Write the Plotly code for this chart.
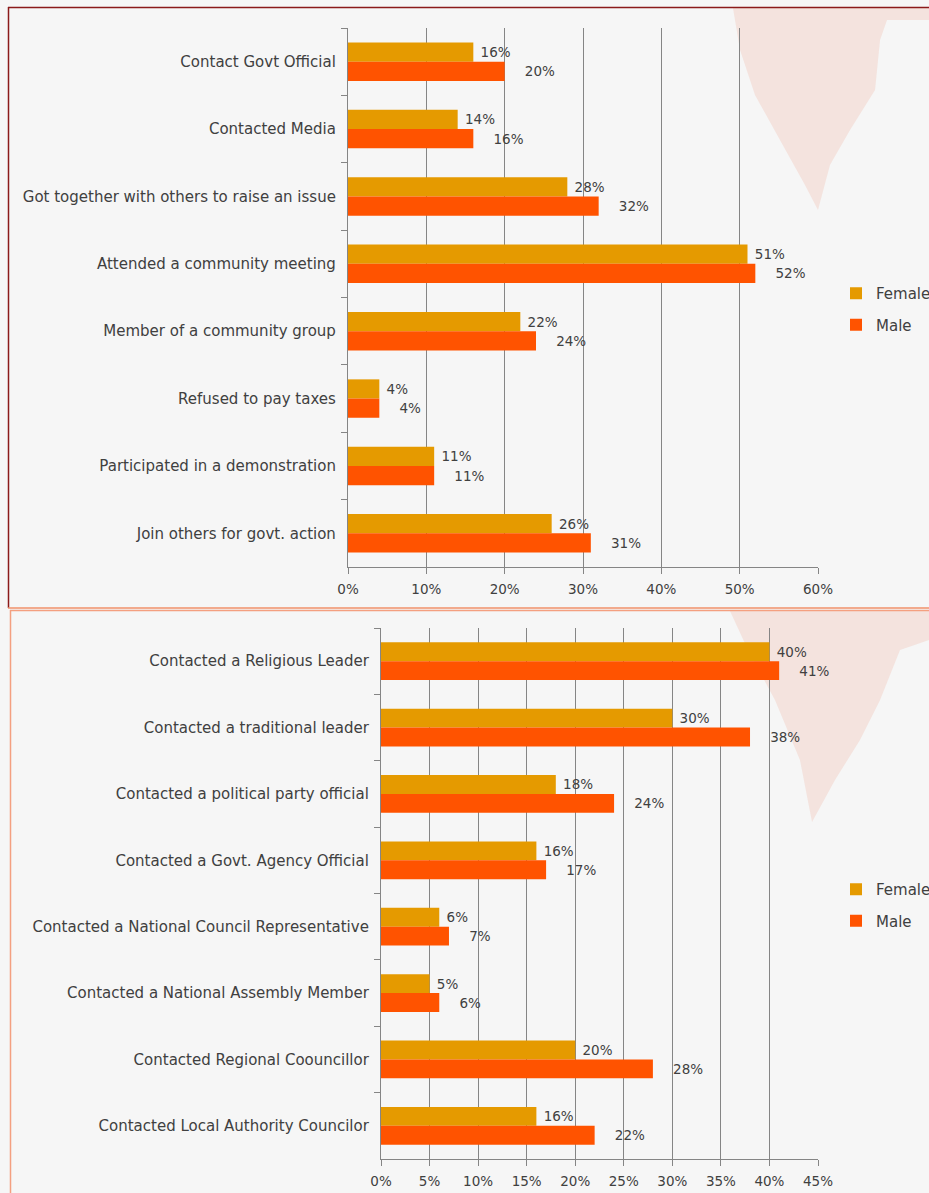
import plotly.graph_objects as go

# ---- data ----
top_categories = [
    "Contact Govt Official",
    "Contacted Media",
    "Got together with others to raise an issue",
    "Attended a community meeting",
    "Member of a community group",
    "Refused to pay taxes",
    "Participated in a demonstration",
    "Join others for govt. action",
]
top_female = [16, 14, 28, 51, 22, 4, 11, 26]
top_male = [20, 16, 32, 52, 24, 4, 11, 31]
top_ticks = [0, 10, 20, 30, 40, 50, 60]

bottom_categories = [
    "Contacted a Religious Leader",
    "Contacted a traditional leader",
    "Contacted a political party official",
    "Contacted a Govt. Agency Official",
    "Contacted a National Council Representative",
    "Contacted a National Assembly Member",
    "Contacted Regional Coouncillor",
    "Contacted Local Authority Councilor",
]
bottom_female = [40, 30, 18, 16, 6, 5, 20, 16]
bottom_male = [41, 38, 24, 17, 7, 6, 28, 22]
bottom_ticks = [0, 5, 10, 15, 20, 25, 30, 35, 40, 45]

series_names = ["Female", "Male"]

# ---- style ----
W, H = 929, 1193
FEMALE_C = "#E59A00"
MALE_C = "#FF5300"
TEXT_C = "#404040"
GRID_C = "#858585"
FONT = "DejaVu Sans"
NB = "\u00a0"
label_pad = {"Female": 1, "Male": 4}


def px_x(x):
    return x / W


def px_y(y):
    return 1 - y / H


fig = go.Figure()

panels = [
    (top_categories, [top_female, top_male], "x", "y", "legend"),
    (bottom_categories, [bottom_female, bottom_male], "x2", "y2", "legend2"),
]
for cats, series, xa, ya, lg in panels:
    for name, vals, col in zip(series_names, series, [FEMALE_C, MALE_C]):
        fig.add_trace(go.Bar(
            y=cats, x=vals, name=name, orientation="h",
            marker=dict(color=col, line=dict(width=0)),
            text=[NB * label_pad[name] + f"{v}%" for v in vals], textposition="outside",
            textfont=dict(color=TEXT_C, size=13.5, family=FONT),
            cliponaxis=False, xaxis=xa, yaxis=ya, legend=lg,
            legendgroup=f"{lg}-{name}",
        ))

xcommon = dict(
    showgrid=True, gridcolor=GRID_C, gridwidth=1.2,
    showline=True, linecolor=GRID_C, linewidth=1.2,
    ticks="outside", ticklen=6, tickcolor=GRID_C,
    zeroline=False, tickfont=dict(color=TEXT_C, size=13.5, family=FONT),
    fixedrange=True, automargin=False, ticklabelstandoff=4,
)
ycommon = dict(
    autorange="reversed", showline=True, linecolor=GRID_C, linewidth=1.2,
    ticks="outside", ticklen=6, tickcolor=GRID_C, tickson="boundaries",
    showgrid=False, tickfont=dict(color=TEXT_C, size=15, family=FONT),
    ticklabelstandoff=8, automargin=False, fixedrange=True,
)
legcommon = dict(
    x=1.0 + 7 / W, xanchor="right", yanchor="middle",
    traceorder="grouped", bgcolor="rgba(0,0,0,0)",
    font=dict(size=15, color=TEXT_C, family=FONT),
    itemwidth=30, tracegroupgap=9,
)

fig.update_layout(
    width=W, height=H,
    margin=dict(l=0, r=0, t=0, b=0, autoexpand=False),
    paper_bgcolor="#f6f6f6", plot_bgcolor="rgba(0,0,0,0)",
    barmode="group", bargap=0.43, bargroupgap=0,
    font=dict(family=FONT, color=TEXT_C),
    xaxis=dict(domain=[px_x(348), px_x(818)], anchor="y", range=[0, 60],
               tickvals=top_ticks, ticktext=[f"{t}%" for t in top_ticks], **xcommon),
    yaxis=dict(domain=[px_y(567), px_y(28)], anchor="x", **ycommon),
    xaxis2=dict(domain=[px_x(381), px_x(818)], anchor="y2", range=[0, 45],
                tickvals=bottom_ticks, ticktext=[f"{t}%" for t in bottom_ticks], **xcommon),
    yaxis2=dict(domain=[px_y(1159), px_y(628)], anchor="x2", **ycommon),
    legend=dict(y=px_y(309), **legcommon),
    legend2=dict(y=px_y(905), **legcommon),
    showlegend=True,
)

# decorative background blobs and panel borders (paper coords)
def path(points):
    s = "M " + " L ".join(f"{px_x(x):.4f},{px_y(y):.4f}" for x, y in points) + " Z"
    return s

BLOB = "rgba(240,170,150,0.25)"
shapes = [
    dict(type="path", xref="paper", yref="paper", layer="below", line=dict(width=0),
         fillcolor=BLOB,
         path=path([(733, 8), (929, 8), (929, 20), (887, 20), (880, 40), (875, 90),
                    (850, 130), (830, 165), (818, 210), (805, 185), (780, 140),
                    (755, 95), (740, 50)])),
    dict(type="path", xref="paper", yref="paper", layer="below", line=dict(width=0),
         fillcolor=BLOB,
         path=path([(730, 611), (929, 611), (929, 640), (900, 650), (880, 700), (860, 740),
                    (835, 780), (812, 822), (800, 760), (775, 700), (748, 650)])),
    # top panel border
    dict(type="line", xref="paper", yref="paper", x0=px_x(8), x1=1, y0=px_y(7.5), y1=px_y(7.5),
         line=dict(color="#8b1a1a", width=1.5)),
    dict(type="line", xref="paper", yref="paper", x0=px_x(8.5), x1=px_x(8.5), y0=px_y(7), y1=px_y(608),
         line=dict(color="#8b1a1a", width=1.5)),
    dict(type="line", xref="paper", yref="paper", x0=px_x(8), x1=1, y0=px_y(608), y1=px_y(608),
         line=dict(color="#f0906a", width=1.5)),
    # bottom panel border
    dict(type="line", xref="paper", yref="paper", x0=px_x(10), x1=1, y0=px_y(610.5), y1=px_y(610.5),
         line=dict(color="#f4a080", width=1.5)),
    dict(type="line", xref="paper", yref="paper", x0=px_x(10.5), x1=px_x(10.5), y0=px_y(610), y1=0,
         line=dict(color="#f4a080", width=1.5)),
]
fig.update_layout(shapes=shapes)

fig.write_html(
    "out.html",
    config={"displayModeBar": False},
    post_script="document.body.style.margin='0';document.body.style.overflow='hidden';",
)
